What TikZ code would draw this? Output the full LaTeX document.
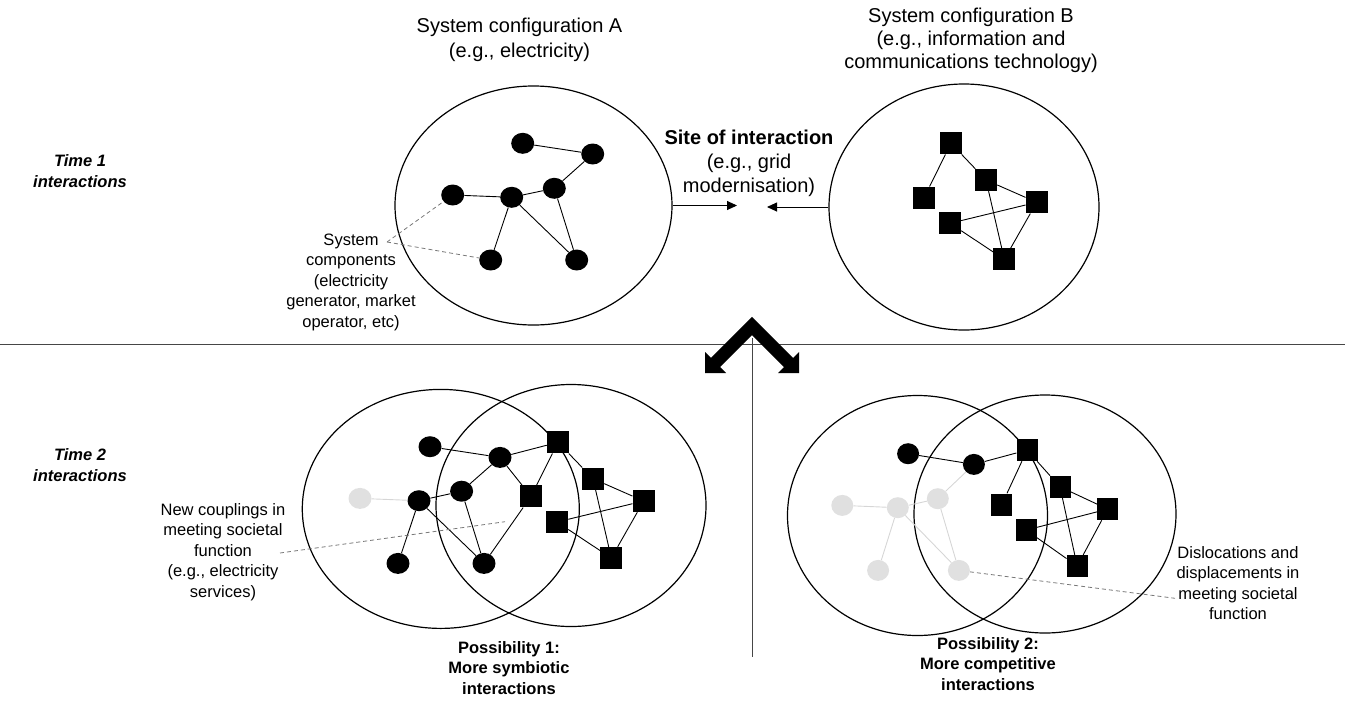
\documentclass[tikz,border=0pt]{standalone}
\usepackage{fontspec}
\setmainfont{Liberation Sans}
\usetikzlibrary{shapes.geometric,arrows.meta}
\definecolor{ghost}{RGB}{224,224,224}
\definecolor{ghostline}{RGB}{214,214,214}
\definecolor{dashgray}{RGB}{120,120,120}
\definecolor{rulegray}{RGB}{70,70,70}
\begin{document}
\begin{tikzpicture}[x=1pt,y=-1pt,
  dotnode/.style={ellipse,fill=black,draw=none,minimum width=23,minimum height=21,inner sep=0},
  ghostnode/.style={ellipse,fill=ghost,draw=none,minimum width=23,minimum height=21,inner sep=0},
  sqnode/.style={rectangle,fill=black,draw=none,minimum width=22,minimum height=22,inner sep=0},
  sysell/.style={ellipse,draw=black,line width=1.2pt,inner sep=0},
  edge/.style={draw=black,line width=0.9pt},
  ghostedge/.style={draw=ghostline,line width=0.9pt},
  leader/.style={draw=dashgray,line width=0.8pt,dash pattern=on 4pt off 3pt},
  bigtxt/.style={align=center,inner sep=0,font=\fontsize{20}{23}\selectfont},
  smalltxt/.style={align=center,inner sep=0,font=\fontsize{16.5}{20.5}\selectfont},
  smallbold/.style={align=center,inner sep=0,font=\fontsize{16.5}{20.5}\selectfont\bfseries},
  timetxt/.style={align=center,inner sep=0,font=\fontsize{16.5}{21}\selectfont\bfseries\itshape},
  pointer/.style={draw=black,line width=0.9pt,-{Triangle[length=10pt,width=9pt]}}
]
\useasboundingbox (0,0) rectangle (1345,702);

% ---------- dividers ----------
\coordinate (hl) at (0,344);
\coordinate (hr) at (1345,344);
\coordinate (vt) at (752,338);
\coordinate (vb) at (752,657);
\draw[rulegray,line width=1pt] (hl) -- (hr);
\draw[rulegray,line width=1pt] (vt) -- (vb);

% ---------- chevron with two arrowheads ----------
\fill[black] (705,373) -- (726,373) -- (720.1,367.1) -- (752,335.2) -- (783.9,367.1)
  -- (778,373) -- (799,373) -- (799,352) -- (793.1,357.9) -- (752,316.8)
  -- (710.9,357.9) -- (705,352) -- cycle;

% ---------- row labels ----------
\node[timetxt] (t1) at (80,171.5) {Time 1\\interactions};
\node[timetxt] (t2) at (80,465) {Time 2\\interactions};

% ---------- top headings ----------
\node[align=center,inner sep=0,font=\fontsize{20}{25}\selectfont] (labA) at (519.5,39.5) {System configuration A\\(e.g., electricity)};
\node[bigtxt] (labB) at (971,40) {System configuration B\\(e.g., information and\\communications technology)};
\node[align=center,inner sep=0,font=\fontsize{20}{24}\selectfont] (site) at (749,163.5)
  {\textbf{Site of interaction}\\(e.g., grid\\modernisation)};

% ---------- Time 1: configuration A ----------
\node[sysell,minimum width=277,minimum height=239] (ellA) at (533.5,205.5) {};
\node[dotnode] (n1) at (522.7,143.3) {};
\node[dotnode] (n2) at (592.7,154) {};
\node[dotnode] (n3) at (554.3,188.3) {};
\node[dotnode] (n4) at (452.7,195) {};
\node[dotnode] (n5) at (511.7,197.3) {};
\node[dotnode] (n6) at (490.7,260) {};
\node[dotnode] (n7) at (576.7,260) {};
\draw[edge] (n1) -- (n2);
\draw[edge] (n2) -- (n3);
\draw[edge] (n3) -- (n5);
\draw[edge] (n4) -- (n5);
\draw[edge] (n5) -- (n6);
\draw[edge] (n5) -- (n7);
\draw[edge] (n3) -- (n7);

% ---------- Time 1: configuration B ----------
\node[sysell,minimum width=270,minimum height=246] (ellB) at (964,207) {};
\node[sqnode] (s1) at (951,143.3) {};
\node[sqnode] (s2) at (986,180) {};
\node[sqnode] (s3) at (924,197.7) {};
\node[sqnode] (s4) at (1036.7,202.3) {};
\node[sqnode] (s5) at (950,223.3) {};
\node[sqnode] (s6) at (1004.3,259.3) {};
\draw[edge] (s1) -- (s3);
\draw[edge] (s1) -- (s2);
\draw[edge] (s2) -- (s4);
\draw[edge] (s2) -- (s6);
\draw[edge] (s5) -- (s4);
\draw[edge] (s5) -- (s6);
\draw[edge] (s4) -- (s6);

% ---------- site of interaction arrows ----------
\coordinate (tipA) at (737,206);
\coordinate (tipB) at (767,206);
\draw[pointer] (ellA.east) -- (tipA |- ellA.east);
\draw[pointer] (ellB.west) -- (tipB |- ellB.west);

% ---------- system components label ----------
\node[smalltxt] (comp) at (351,282) {System\\components\\(electricity\\generator, market\\operator, etc)};
\coordinate (compP) at (387,242);
\draw[leader] (compP) -- (n4);
\draw[leader] (compP) -- (n6);

% ---------- Time 2: possibility 1 ----------
\node[sysell,minimum width=277,minimum height=239] (ellL1) at (440.8,508.9) {};
\node[sysell,minimum width=270,minimum height=242] (ellL2) at (571,505.5) {};
\node[dotnode] (c1) at (430,446.7) {};
\node[dotnode] (c2) at (500,457.4) {};
\node[dotnode] (c3) at (461.6,491.2) {};
\node[ghostnode] (g1) at (360,498.4) {};
\node[dotnode] (c4) at (419,500.7) {};
\node[dotnode] (c5) at (398,563.4) {};
\node[dotnode] (c6) at (484,563.4) {};
\node[sqnode] (q1) at (558,442.3) {};
\node[sqnode] (q3) at (593,478.7) {};
\node[sqnode] (q2) at (531,496.4) {};
\node[sqnode] (q4) at (643.7,501) {};
\node[sqnode] (q5) at (557,522) {};
\node[sqnode] (q6) at (611.3,558) {};
\draw[ghostedge] (g1) -- (c4);
\draw[edge] (c1) -- (c2);
\draw[edge] (c2) -- (c3);
\draw[edge] (c3) -- (c4);
\draw[edge] (c4) -- (c5);
\draw[edge] (c4) -- (c6);
\draw[edge] (c3) -- (c6);
\draw[edge] (c2) -- (q1);
\draw[edge] (c2) -- (q2);
\draw[edge] (c6) -- (q2);
\draw[edge] (q1) -- (q2);
\draw[edge] (q1) -- (q3);
\draw[edge] (q3) -- (q4);
\draw[edge] (q3) -- (q6);
\draw[edge] (q5) -- (q4);
\draw[edge] (q5) -- (q6);
\draw[edge] (q4) -- (q6);

\node[smalltxt] (couple) at (223,552) {New couplings in\\meeting societal\\function\\(e.g., electricity\\services)};
\coordinate (coupleA) at (280,553);
\coordinate (coupleB) at (505,521.7);
\draw[leader] (coupleA) -- (coupleB);
\node[smallbold] (poss1) at (509,668) {Possibility 1:\\More symbiotic\\interactions};

% ---------- Time 2: possibility 2 ----------
\node[sysell,minimum width=260,minimum height=240] (ellR1) at (917.5,515.5) {};
\node[sysell,minimum width=262,minimum height=238] (ellR2) at (1045,514) {};
\node[dotnode,minimum width=22] (d1) at (908.1,453.7) {};
\node[dotnode,minimum width=22] (d2) at (973.9,464.4) {};
\node[ghostnode,minimum width=22] (e3) at (937.8,498.7) {};
\node[ghostnode,minimum width=22] (e4) at (842.3,505.4) {};
\node[ghostnode,minimum width=22] (e5) at (897.8,507.7) {};
\node[ghostnode,minimum width=22] (e6) at (878.1,570.4) {};
\node[ghostnode,minimum width=22] (e7) at (958.9,570.4) {};
\node[sqnode,minimum width=21] (r1) at (1027.1,450.1) {};
\node[sqnode,minimum width=21] (r2) at (1060,486.8) {};
\node[sqnode,minimum width=21] (r3) at (1001.8,504.5) {};
\node[sqnode,minimum width=21] (r4) at (1107.7,509.1) {};
\node[sqnode,minimum width=21] (r5) at (1026.2,530.1) {};
\node[sqnode,minimum width=21] (r6) at (1077.2,566.1) {};
\draw[ghostedge] (d2) -- (e3);
\draw[ghostedge] (e3) -- (e5);
\draw[ghostedge] (e4) -- (e5);
\draw[ghostedge] (e5) -- (e6);
\draw[ghostedge] (e5) -- (e7);
\draw[ghostedge] (e3) -- (e7);
\draw[edge] (d1) -- (d2);
\draw[edge] (d2) -- (r1);
\draw[edge] (r1) -- (r3);
\draw[edge] (r1) -- (r2);
\draw[edge] (r2) -- (r4);
\draw[edge] (r2) -- (r6);
\draw[edge] (r5) -- (r4);
\draw[edge] (r5) -- (r6);
\draw[edge] (r4) -- (r6);

\node[smalltxt] (disloc) at (1238,583) {Dislocations and\\displacements in\\meeting societal\\function};
\coordinate (dislocA) at (1175,598.3);
\draw[leader] (e7) -- (dislocA);
\node[smallbold] (poss2) at (988,664) {Possibility 2:\\More competitive\\interactions};

\end{tikzpicture}
\end{document}
